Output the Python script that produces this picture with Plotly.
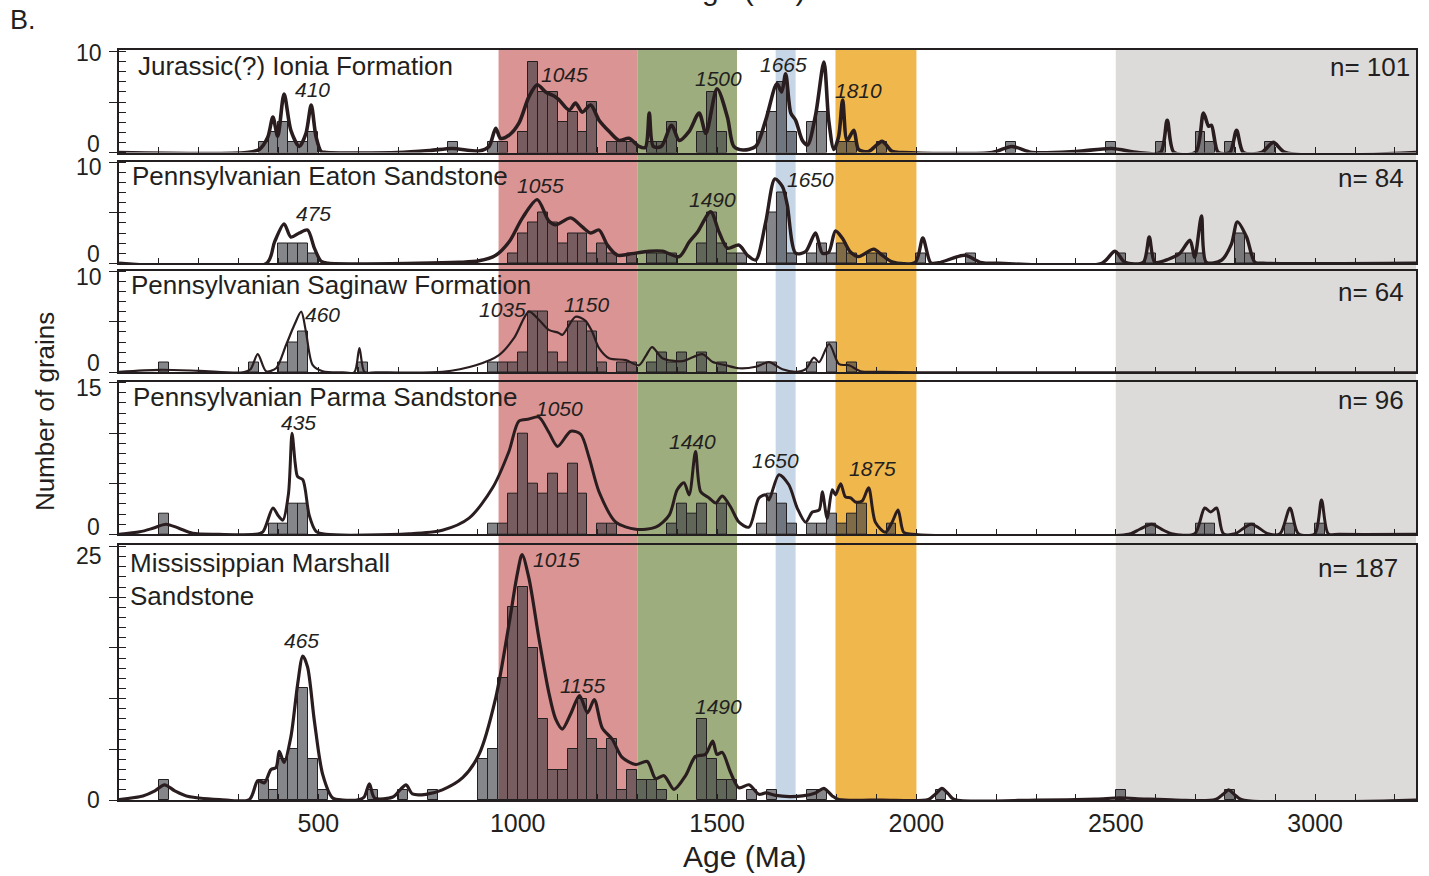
import plotly.graph_objects as go

AGE_MAX = 3253
BIN_WIDTH = 25

# ---------------- data: histogram bins (bin start, Ma) and counts ----------------
p1_bins = [350, 375, 400, 425, 450, 475, 825, 925, 950, 1000, 1025, 1050, 1075, 1100, 1125, 1150, 1175,
           1225, 1250, 1275, 1325, 1350, 1375, 1450, 1475, 1500, 1600, 1625, 1650, 1675, 1725, 1750,
           1800, 1825, 1900, 2225, 2475, 2600, 2700, 2725, 2775, 2875]
p1_counts = [1, 2, 3, 1, 1, 2, 1, 1, 1, 2, 9, 6, 6, 3, 4, 2, 5,
             1, 1, 1, 1, 1, 3, 2, 6, 2, 2, 4, 7, 2, 3, 4,
             1, 1, 1, 1, 1, 1, 2, 1, 1, 1]

p2_bins = [400, 425, 450, 475, 975, 1000, 1025, 1050, 1075, 1100, 1125, 1150, 1175, 1200, 1225, 1275,
           1325, 1350, 1375, 1450, 1475, 1500, 1525, 1550, 1625, 1650, 1675, 1725, 1750, 1775, 1800,
           1825, 1875, 1900, 2000, 2125, 2500, 2575, 2650, 2675, 2700, 2800, 2825]
p2_counts = [2, 2, 2, 1, 1, 3, 4, 5, 4, 2, 3, 3, 1, 2, 1, 1,
             1, 1, 1, 2, 5, 2, 1, 1, 5, 7, 1, 1, 2, 1, 2,
             1, 1, 1, 1, 1, 1, 1, 1, 1, 1, 3, 1]

p3_bins = [100, 325, 400, 425, 450, 600, 925, 950, 975, 1000, 1025, 1050, 1075, 1100, 1125, 1150, 1175,
           1200, 1250, 1275, 1325, 1350, 1375, 1400, 1450, 1500, 1600, 1625, 1725, 1775, 1825]
p3_counts = [1, 1, 1, 3, 4, 1, 1, 1, 1, 2, 6, 6, 2, 1, 5, 5, 4,
             1, 1, 1, 1, 2, 1, 2, 2, 1, 1, 1, 1, 3, 1]

p4_bins = [100, 375, 400, 425, 450, 925, 950, 975, 1000, 1025, 1050, 1075, 1100, 1125, 1150, 1200, 1225,
           1375, 1400, 1425, 1450, 1500, 1600, 1625, 1650, 1675, 1725, 1750, 1775, 1800, 1825, 1850,
           1925, 2575, 2700, 2725, 2825, 2925, 3000]
p4_counts = [2, 1, 1, 3, 3, 1, 1, 4, 10, 5, 4, 6, 4, 7, 4, 1, 1,
             1, 3, 2, 3, 3, 1, 4, 3, 1, 1, 1, 2, 1, 2, 3,
             1, 1, 1, 1, 1, 1, 1]

p5_bins = [100, 350, 375, 400, 425, 450, 475, 500, 625, 700, 775, 900, 925, 950, 975, 1000, 1025, 1050,
           1075, 1100, 1125, 1150, 1175, 1200, 1225, 1250, 1275, 1300, 1325, 1350, 1450, 1475, 1500,
           1525, 1575, 1625, 1725, 1750, 2050, 2500, 2775]
p5_counts = [2, 2, 1, 4, 5, 11, 4, 1, 1, 1, 1, 4, 5, 12, 19, 21, 15, 8,
             3, 3, 5, 10, 6, 5, 6, 1, 3, 2, 2, 1, 8, 4, 2,
             2, 1, 1, 1, 1, 1, 1, 1]

# ---------------- data: probability density curves (age, value) ----------------
p1_curve = [(0, 0), (320, 0), (352, 0.3), (373, 1.5), (386, 3.5), (398, 1.6), (414, 5.8), (431, 2.2), (452, 0.6),
            (469, 1.9), (482, 4.7), (494, 1.6), (507, 0.1), (520, 0), (700, 0), (780, 0.2), (836, 0.4),
            (880, 0.2), (903, 0.15), (928, 0.6), (945, 2.4), (957, 1.4), (978, 1.7), (1003, 2.9), (1028, 5.5),
            (1049, 6.7), (1070, 6.0), (1095, 5.5), (1104, 5.2), (1129, 4.2), (1145, 4.9), (1162, 4.0),
            (1183, 4.7), (1204, 3.2), (1229, 2.1), (1254, 1.2), (1279, 1.4), (1304, 0.6), (1320, 0.5),
            (1330, 3.9), (1340, 0.6), (1360, 0.6), (1386, 2.7), (1405, 1.2), (1430, 2.1), (1455, 3.9),
            (1472, 1.9), (1500, 6.3), (1526, 3.5), (1542, 0.6), (1565, 0.25), (1597, 0.6), (1622, 3.2),
            (1650, 6.8), (1662, 6.0), (1672, 7.8), (1685, 3.9), (1697, 3.2), (1714, 1.2), (1727, 0.75),
            (1747, 3.7), (1768, 8.95), (1780, 3.2), (1793, 0.3), (1805, 1.6), (1815, 5.2), (1826, 1.2),
            (1843, 2.2), (1855, 0.3), (1880, 0.1), (1914, 1.1), (1939, 0.1), (1965, 0), (2190, 0),
            (2239, 0.6), (2290, 0), (2400, 0.1), (2490, 0.4), (2556, 0), (2612, 0), (2629, 3.2), (2646, 0),
            (2700, 0), (2720, 3.9), (2733, 2.6), (2740, 2.7), (2757, 0), (2786, 0), (2803, 2.2), (2820, 0),
            (2866, 0), (2895, 1.0), (2925, 0), (3253, 0)]

p2_curve = [(0, 0), (370, 0), (390, 2.1), (414, 3.9), (431, 2.6), (452, 3.0), (473, 3.3), (490, 1.5), (507, 0.2),
            (525, 0), (750, 0), (853, 0.1), (903, 0.25), (945, 0.8), (978, 2.1), (1012, 4.5), (1049, 6.3),
            (1078, 4.2), (1095, 3.8), (1133, 4.5), (1162, 3.6), (1183, 3.0), (1204, 3.3), (1225, 1.8),
            (1250, 0.8), (1279, 0.9), (1330, 1.2), (1363, 1.2), (1405, 0.66), (1430, 2.1), (1451, 3.1),
            (1484, 5.1), (1505, 3.1), (1526, 1.5), (1555, 1.8), (1576, 0.8), (1597, 0.33), (1622, 4.1),
            (1645, 8.35), (1664, 7.6), (1676, 5.8), (1697, 1.0), (1722, 1.15), (1747, 3.0), (1764, 1.0),
            (1780, 1.1), (1797, 3.2), (1814, 2.5), (1834, 1.15), (1855, 0.66), (1893, 1.4), (1914, 0.8),
            (1939, 0.15), (1997, 0.1), (2016, 2.5), (2036, 0.05), (2056, 0.05), (2122, 0.8), (2160, 0.1),
            (2207, 0), (2465, 0), (2498, 1.2), (2523, 0.1), (2569, 0.1), (2584, 2.6), (2598, 0.1),
            (2632, 0.4), (2661, 1.0), (2686, 2.3), (2698, 0.6), (2715, 4.7), (2727, 0.1), (2765, 0.3),
            (2790, 1.9), (2805, 4.1), (2828, 2.6), (2849, 0.1), (2870, 0), (3253, 0)]

p3_curve = [(0, 0.05), (102, 0.25), (202, 0.15), (310, 0), (330, 0.3), (348, 1.8), (369, 0.1), (394, 0.4),
            (419, 2.7), (440, 4.7), (457, 6.0), (469, 4.0), (486, 0.7), (511, 0.1), (561, 0), (590, 0),
            (603, 2.4), (616, 0), (644, 0), (811, 0.05), (895, 0.7), (953, 1.7), (991, 3.4), (1028, 6.0),
            (1053, 5.2), (1078, 4.2), (1103, 3.9), (1112, 3.7), (1145, 5.5), (1170, 5.1), (1187, 4.0),
            (1204, 2.4), (1229, 1.4), (1271, 1.2), (1304, 0.7), (1321, 1.6), (1337, 2.5), (1363, 1.4),
            (1413, 1.1), (1463, 1.8), (1488, 1.05), (1522, 0.7), (1555, 0.4), (1597, 0.55), (1630, 1.0),
            (1664, 0.3), (1697, 0.05), (1722, 0.3), (1743, 1.45), (1756, 1.0), (1781, 2.8), (1806, 0.8),
            (1831, 0.7), (1860, 0.1), (1914, 0.05), (2000, 0), (3253, 0)]

p4_curve = [(0, 0), (52, 0.25), (85, 0.6), (118, 1.0), (150, 0.6), (185, 0.1), (250, 0), (340, 0), (361, 0.25),
            (386, 2.6), (400, 1.8), (411, 1.4), (425, 4.0), (434, 10.0), (442, 7.0), (448, 5.7), (461, 5.4),
            (477, 1.9), (494, 0.3), (519, 0), (728, 0.05), (811, 0.4), (878, 1.6), (937, 4.6), (978, 8.2),
            (1003, 11.2), (1028, 11.4), (1053, 11.6), (1078, 10.1), (1100, 8.7), (1133, 10.2), (1158, 9.9),
            (1179, 7.6), (1204, 4.2), (1246, 1.2), (1296, 0.5), (1346, 0.7), (1380, 1.9), (1400, 4.4),
            (1417, 5.1), (1430, 3.9), (1446, 8.2), (1459, 4.2), (1480, 3.6), (1497, 3.1), (1513, 3.8),
            (1534, 2.7), (1555, 1.2), (1580, 0.7), (1605, 3.6), (1622, 3.9), (1630, 3.4), (1655, 5.9),
            (1680, 4.9), (1701, 2.6), (1722, 1.2), (1739, 2.2), (1756, 2.4), (1764, 4.2), (1776, 1.6),
            (1789, 4.4), (1797, 3.9), (1810, 5.0), (1822, 3.7), (1835, 3.6), (1847, 3.2), (1864, 3.3),
            (1880, 4.6), (1897, 1.2), (1922, 0.2), (1939, 1.2), (1954, 2.4), (1968, 0.2), (1989, 0),
            (2532, 0), (2560, 0.5), (2590, 1.0), (2620, 0.4), (2640, 0.05), (2698, 0.05), (2723, 2.6),
            (2738, 2.2), (2753, 2.6), (2770, 0.05), (2799, 0.05), (2840, 1.0), (2882, 0.05), (2912, 0.05),
            (2937, 2.6), (2958, 0.05), (2999, 0.05), (3016, 3.4), (3033, 0.05), (3060, 0), (3253, 0)]

p5_curve = [(0, 0.05), (60, 0.4), (90, 0.9), (114, 1.5), (140, 0.9), (169, 0.4), (252, 0.05), (327, 0.05),
            (348, 1.9), (365, 1.7), (381, 3.0), (394, 3.2), (402, 4.8), (414, 3.7), (431, 6.2), (448, 11.4),
            (461, 14.2), (473, 13.1), (490, 7.8), (511, 2.5), (536, 0.2), (561, 0), (603, 0.05), (615, 0.3),
            (628, 1.6), (641, 0.2), (687, 0.3), (705, 1.0), (720, 1.5), (736, 0.6), (770, 0.56), (811, 1.0),
            (862, 2.2), (903, 4.5), (945, 10.1), (978, 17.3), (999, 22.3), (1011, 24.2), (1028, 21.9),
            (1053, 16.0), (1078, 10.6), (1095, 8.0), (1112, 7.0), (1133, 8.5), (1155, 10.3), (1175, 8.6),
            (1192, 9.9), (1212, 7.1), (1237, 6.0), (1262, 4.2), (1296, 3.5), (1325, 3.8), (1346, 2.1),
            (1367, 2.4), (1392, 1.05), (1421, 2.4), (1446, 4.3), (1471, 4.5), (1489, 5.8), (1500, 4.5),
            (1513, 4.7), (1534, 2.7), (1555, 1.2), (1580, 1.5), (1605, 0.56), (1622, 0.7), (1647, 0.45),
            (1681, 0.33), (1714, 0.4), (1747, 0.7), (1768, 1.15), (1789, 0.4), (1805, 0.05), (1914, 0),
            (2030, 0.05), (2048, 0.6), (2064, 1.15), (2080, 0.6), (2095, 0.05), (2300, 0), (2450, 0.1),
            (2510, 0.2), (2570, 0.1), (2650, 0), (2750, 0.05), (2770, 0.6), (2783, 1.0), (2796, 0.6),
            (2815, 0.05), (3253, 0)]

panel_names = ["Jurassic(?) Ionia Formation", "Pennsylvanian Eaton Sandstone",
               "Pennsylvanian Saginaw Formation", "Pennsylvanian Parma Sandstone",
               "Mississippian Marshall<br>Sandstone"]
panel_n = ["n= 101", "n= 84", "n= 64", "n= 96", "n= 187"]
panel_ymax_label = [10, 10, 10, 15, 25]
peak_labels = [["410", "1045", "1500", "1665", "1810"],
               ["475", "1055", "1490", "1650"],
               ["460", "1035", "1150"],
               ["435", "1050", "1440", "1650", "1875"],
               ["465", "1015", "1155", "1490"]]

# age bands (Ma)
band_ranges = [(952, 1300), (1300, 1550), (1647, 1697), (1797, 2000), (2500, AGE_MAX)]
band_colors = ["#db9494", "#9dad7e", "#c6d6e7", "#f0b74c", "#dcdbda"]

# ---------------- layout geometry ----------------
W, H = 1429, 876
ML, MR, MT, MB = 119, 11, 50, 76
PW, PH = W - ML - MR, H - MT - MB

def px_x(p):
    return (p - ML) / PW

def px_y(p):
    return (H - MB - p) / PH

# panel vertical extents in pixels (top, bottom)
panel_px = [(50, 152.5), (161.5, 263.3), (270.5, 372.3), (381.7, 534.3), (545, 800)]
panel_yrange = [10.15, 10.08, 10.08, 15.1, 25.15]
curve_width = [3.6, 3.4, 2.2, 3.0, 3.2]

# text placement (pixels)
name_pos = [(136, 66), (130, 176), (129, 285), (131, 397), (128, 580)]
n_pos = [(1414, 67), (1408, 178), (1408, 292), (1408, 400), (1402, 568)]
ytick_top_pos = [53, 167, 277, 388, 556]
ytick_zero_pos = [144, 254, 363, 527, 800]
peak_pos = [[(313, 89), (565, 74), (719, 78), (785, 64), (860, 91)],
            [(314, 213), (541, 185), (713, 200), (812, 179)],
            [(323, 314), (503, 309), (587, 304)],
            [(299, 423), (560, 408), (693, 441), (777, 460), (874, 468)],
            [(302, 640), (557, 559), (583, 685), (719, 706)]]

INK = "#231f20"
FONT = "Liberation Sans, Arial, Helvetica, sans-serif"

bins_all = [p1_bins, p2_bins, p3_bins, p4_bins, p5_bins]
counts_all = [p1_counts, p2_counts, p3_counts, p4_counts, p5_counts]
curves_all = [p1_curve, p2_curve, p3_curve, p4_curve, p5_curve]

fig = go.Figure()
annotations = []
layout_axes = {}

for i in range(5):
    k = i + 1
    xa = "x" if k == 1 else f"x{k}"
    ya = "y" if k == 1 else f"y{k}"
    fig.add_trace(go.Bar(
        x=bins_all[i], y=counts_all[i], width=BIN_WIDTH, offset=0,
        marker=dict(color="rgba(58,60,64,0.62)", line=dict(color=INK, width=1)),
        xaxis=xa, yaxis=ya, hoverinfo="skip"))
    fig.add_trace(go.Scatter(
        x=[a for a, v in curves_all[i]], y=[v for a, v in curves_all[i]],
        mode="lines", line=dict(color="#2a1d1f", width=curve_width[i], shape="spline", smoothing=0.8),
        xaxis=xa, yaxis=ya, hoverinfo="skip"))

    top, bot = panel_px[i]
    ymax = panel_ymax_label[i]
    major = list(range(0, ymax + 1, 5))
    xkey = "xaxis" if k == 1 else f"xaxis{k}"
    ykey = "yaxis" if k == 1 else f"yaxis{k}"
    xaxis = dict(domain=[0, 1], range=[0, AGE_MAX], anchor=ya, showline=True, linecolor=INK, linewidth=1.5,
                 mirror=True, showgrid=False, zeroline=False, ticks="inside", ticklen=6, tickwidth=1.2,
                 tickcolor=INK, tickmode="array", tickvals=list(range(0, 3300, 100)),
                 ticktext=[(str(v) if (v % 500 == 0 and v > 0 and k == 5) else "") for v in range(0, 3300, 100)],
                 showticklabels=(k == 5), tickfont=dict(size=25, family=FONT, color=INK))
    if k > 1:
        xaxis["matches"] = "x"
    layout_axes[xkey] = xaxis
    layout_axes[ykey] = dict(domain=[px_y(bot), px_y(top)], range=[0, panel_yrange[i]], anchor=xa,
                             showline=True, linecolor=INK, linewidth=1.5, mirror=True, showgrid=False,
                             zeroline=False, tickmode="array", tickvals=major, showticklabels=False,
                             ticks="outside", ticklen=8, tickwidth=1.2, tickcolor=INK,
                             minor=dict(tickmode="linear", tick0=0, dtick=1, ticks="inside", ticklen=7,
                                        tickwidth=1, tickcolor=INK))

    # panel name
    if "<br>" in panel_names[i]:
        l1, l2 = panel_names[i].split("<br>")
        annotations.append(dict(text=l1, x=px_x(name_pos[i][0]), y=px_y(563), xref="paper", yref="paper",
                                xanchor="left", yanchor="middle", showarrow=False, font=dict(size=26)))
        annotations.append(dict(text=l2, x=px_x(name_pos[i][0]), y=px_y(596), xref="paper", yref="paper",
                                xanchor="left", yanchor="middle", showarrow=False, font=dict(size=26)))
    else:
        annotations.append(dict(text=panel_names[i], x=px_x(name_pos[i][0]), y=px_y(name_pos[i][1]),
                                xref="paper", yref="paper", xanchor="left", yanchor="middle",
                                showarrow=False, font=dict(size=26)))
    annotations.append(dict(text=panel_n[i], x=px_x(n_pos[i][0]), y=px_y(n_pos[i][1]), xref="paper",
                            yref="paper", xanchor="right", yanchor="middle", showarrow=False,
                            font=dict(size=26)))
    # y tick labels
    annotations.append(dict(text=str(ymax), x=0, xshift=-15, y=px_y(ytick_top_pos[i]), xref="paper",
                            yref="paper", xanchor="right", yanchor="middle", showarrow=False,
                            font=dict(size=23)))
    annotations.append(dict(text="0", x=0, xshift=-17, y=px_y(ytick_zero_pos[i]), xref="paper",
                            yref="paper", xanchor="right", yanchor="middle", showarrow=False,
                            font=dict(size=23)))
    # peak labels
    for lab, (ppx, ppy) in zip(peak_labels[i], peak_pos[i]):
        annotations.append(dict(text=f"<i>{lab}</i>", x=px_x(ppx), y=px_y(ppy), xref="paper", yref="paper",
                                xanchor="center", yanchor="middle", showarrow=False, font=dict(size=21)))

# figure-level text
annotations.append(dict(text="B.", x=px_x(8), y=px_y(20), xref="paper", yref="paper", xanchor="left",
                        yanchor="middle", showarrow=False, font=dict(size=27)))
annotations.append(dict(text="Age (Ma)", x=px_x(745), y=px_y(856), xref="paper", yref="paper",
                        xanchor="center", yanchor="middle", showarrow=False, font=dict(size=30)))
annotations.append(dict(text="Age (Ma)", x=px_x(744), y=px_y(-10), xref="paper", yref="paper",
                        xanchor="center", yanchor="middle", showarrow=False, font=dict(size=30)))
annotations.append(dict(text="Number of grains", x=px_x(45), y=px_y(412), xref="paper", yref="paper",
                        xanchor="center", yanchor="middle", textangle=-90, showarrow=False,
                        font=dict(size=26)))

shapes = []
for (a0, a1), col in zip(band_ranges, band_colors):
    shapes.append(dict(type="rect", xref="x", yref="paper", x0=a0, x1=a1, y0=0, y1=1,
                       fillcolor=col, line=dict(width=0), layer="below"))

fig.update_layout(
    width=W, height=H, margin=dict(l=ML, r=MR, t=MT, b=MB, pad=0),
    paper_bgcolor="white", plot_bgcolor="rgba(0,0,0,0)", showlegend=False,
    font=dict(family=FONT, color=INK), bargap=0, barmode="overlay",
    annotations=annotations, shapes=shapes, **layout_axes)

fig.write_html("out.html", config={"displayModeBar": False},
               post_script="document.body.style.margin='0';document.body.style.overflow='hidden';")
